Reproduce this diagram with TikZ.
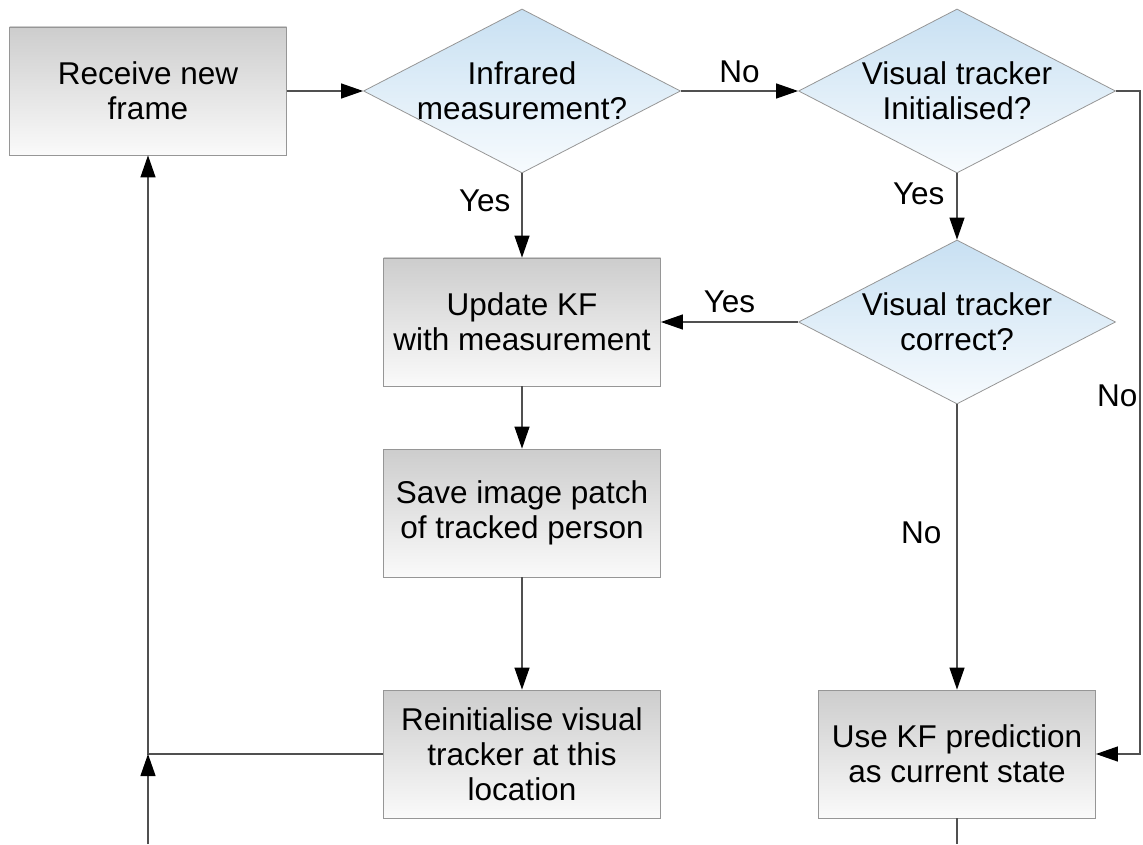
\documentclass[tikz,border=0pt]{standalone}
\usepackage{fontspec}
\setmainfont{Liberation Sans}
\usetikzlibrary{shapes.geometric, arrows.meta}

\definecolor{boxtop}{RGB}{205,205,205}
\definecolor{boxbot}{RGB}{250,250,250}
\definecolor{dectop}{RGB}{200,224,242}
\definecolor{decbot}{RGB}{247,251,254}
\definecolor{edge}{RGB}{150,150,150}
\definecolor{wire}{RGB}{80,80,80}

\tikzset{
  proc/.style={draw=edge, top color=boxtop, bottom color=boxbot, minimum width=138.5pt, minimum height=64pt, inner sep=0pt, align=center},
  dec/.style={diamond, draw=edge, top color=dectop, bottom color=decbot, minimum width=158.5pt, minimum height=82pt, inner sep=0pt, label={[align=center]center:#1}},
  link/.style={draw=wire, line width=0.6pt},
  flow/.style={link, -{Triangle[length=11pt, width=7.5pt, color=black]}},
  lbl/.style={inner sep=0pt}
}

\begin{document}
\begin{tikzpicture}[x=0.5pt, y=-0.5pt, font=\fontsize{15.75pt}{17.5pt}\selectfont]
        \useasboundingbox (0,0) rectangle (1143,844);
        \node[proc] (recv) at (148,91) {Receive new\\frame};
        \node[dec={Infrared\\measurement?}] (ir) at (522,91) {};
        \node[dec={Visual tracker\\Initialised?}] (vi) at (957,91) {};
        \node[dec={Visual tracker\\correct?}] (vc) at (957,322) {};
        \node[proc] (upd) at (522,322) {Update KF\\with measurement};
        \node[proc] (save) at (522,513) {Save image patch\\of tracked person};
        \node[proc] (reinit) at (522,754) {Reinitialise visual\\tracker at this\\location};
        \node[proc] (pred) at (957,754) {Use KF prediction\\as current state};
        \coordinate (rc) at (1140,754);
        \coordinate (j) at (148,754);
        \coordinate (lin) at (148,844);
        \coordinate (lout) at (957,844);

        \draw[flow] (recv) -- (ir);
        \draw[flow] (ir) -- node[lbl, above=4pt] (no1) {No} (vi);
        \draw[flow] (ir) -- node[lbl, pos=0.33, left=5.5pt] (yes1) {Yes} (upd);
        \draw[flow] (vi) -- node[lbl, pos=0.31, left=6pt] (yes2) {Yes} (vc);
        \draw[flow] (vc) -- node[lbl, above=4.5pt] (yes3) {Yes} (upd);
        \draw[flow] (vc) -- node[lbl, pos=0.45, left=7.5pt] (no2) {No} (pred);
        \draw[flow] (vi) -| node[lbl, pos=0.73, left=1pt] (no3) {No} (rc) -- (pred);
        \draw[flow] (upd) -- (save);
        \draw[flow] (save) -- (reinit);
        \draw[flow] (reinit) -| (recv);
        \draw[flow] (lin) -- (j);
        \draw[link] (pred) -- (lout);
    \end{tikzpicture}
\end{document}
